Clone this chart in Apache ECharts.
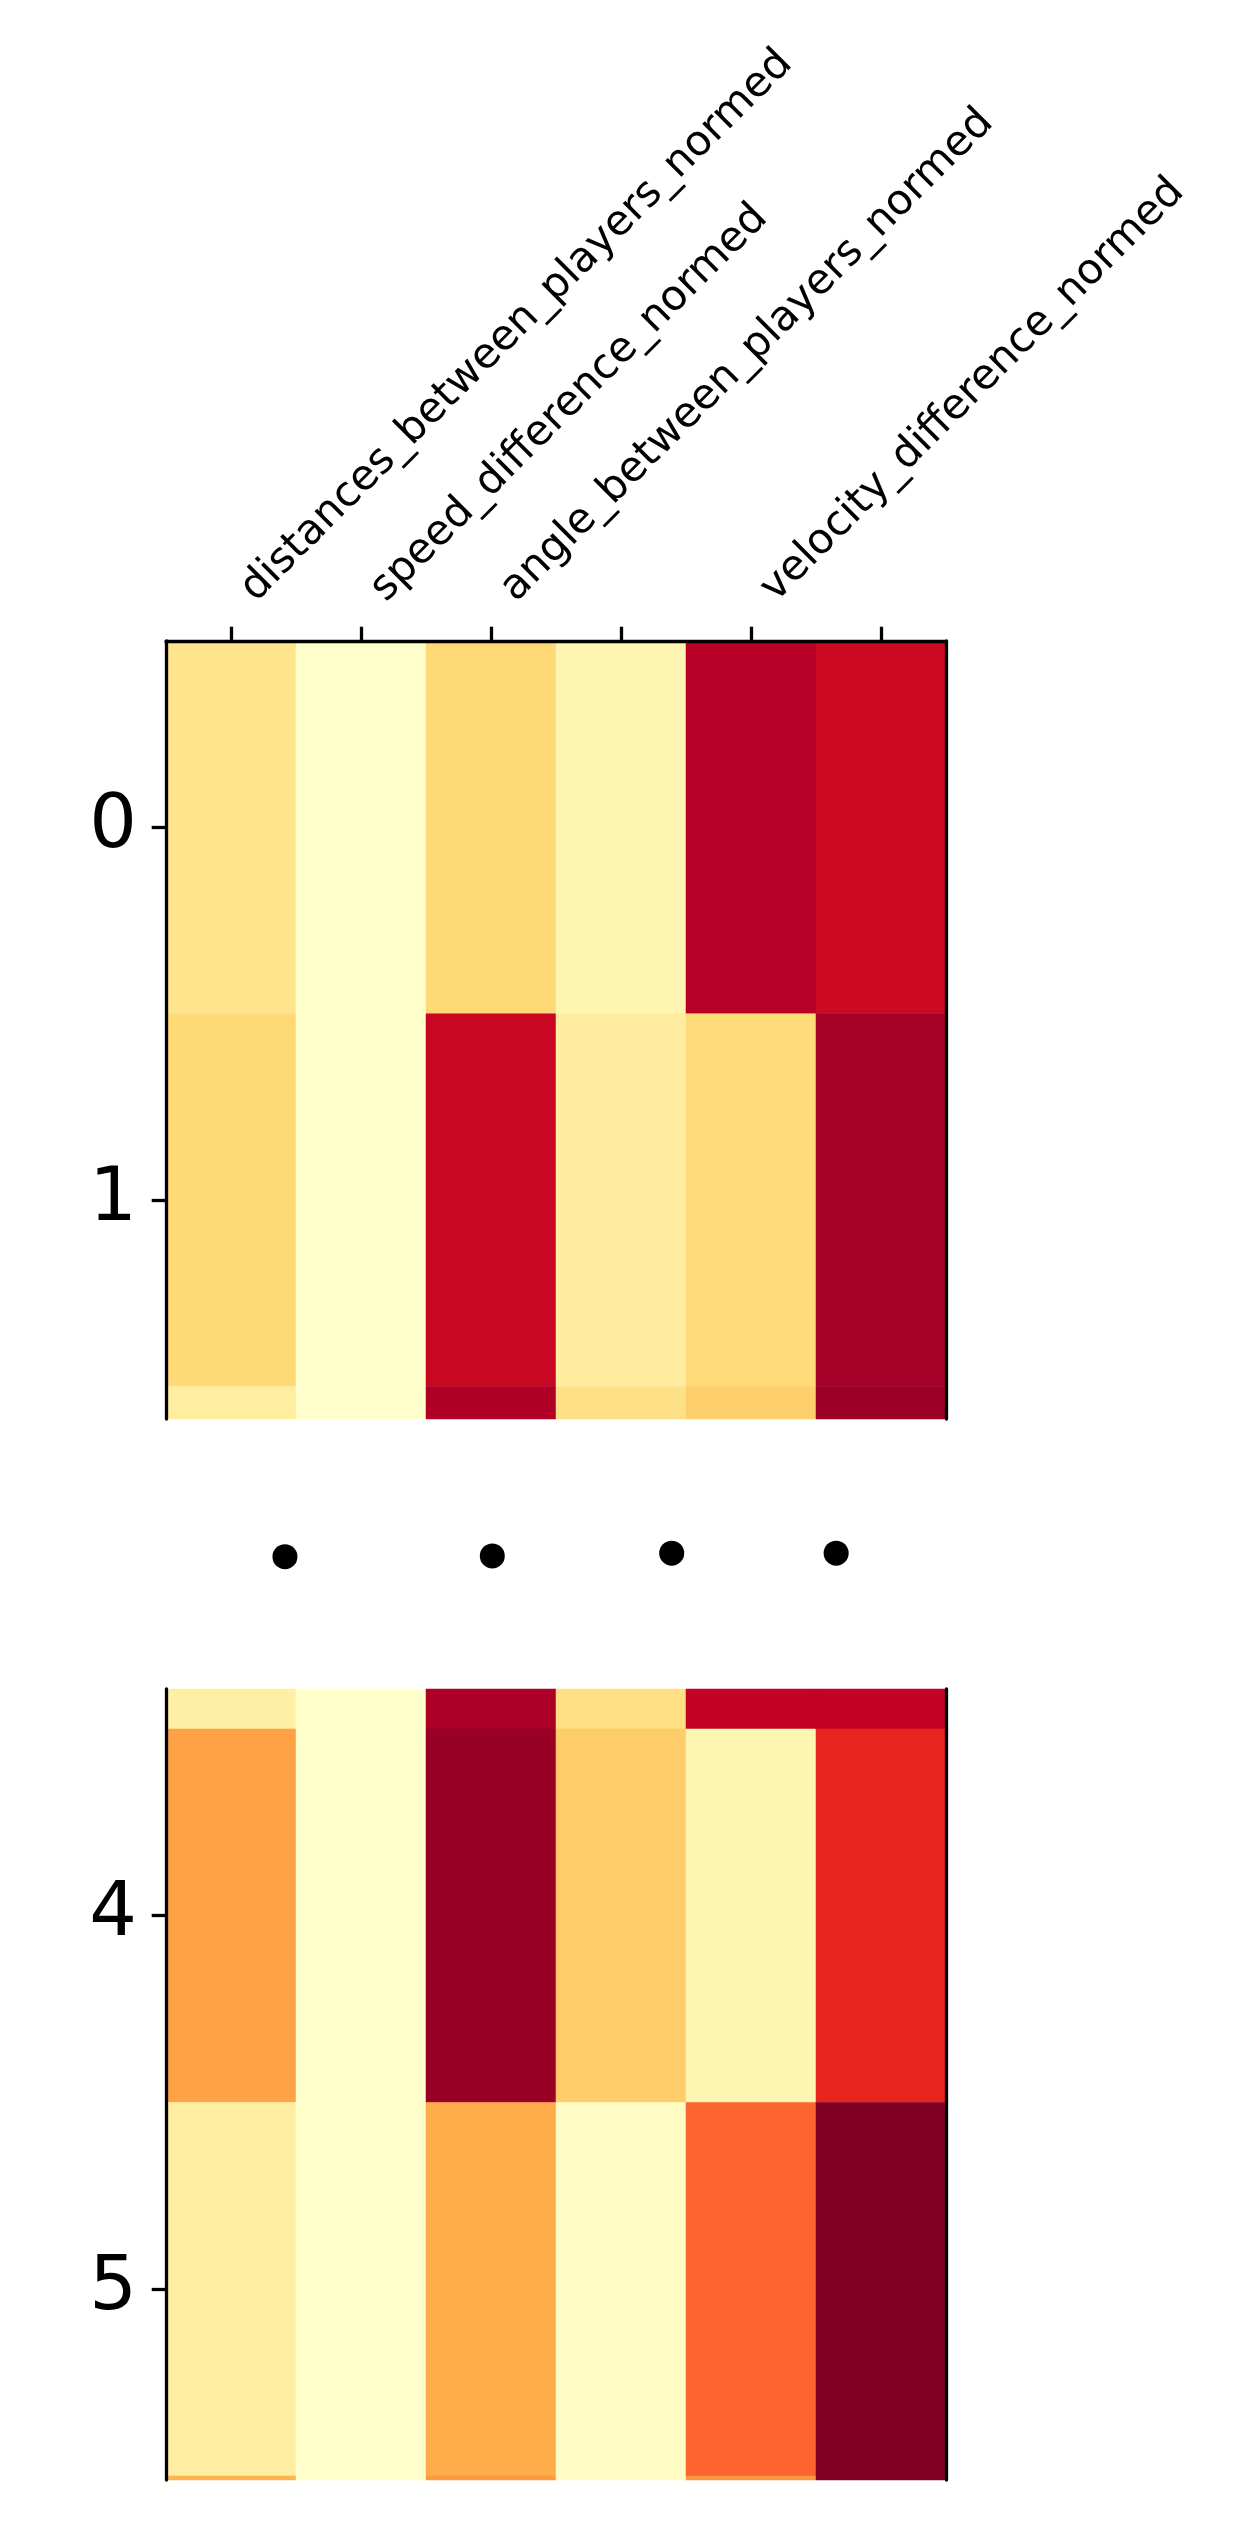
<!DOCTYPE html>
<html>
<head>
<meta charset="utf-8">
<script src="https://cdn.jsdelivr.net/npm/echarts@6/dist/echarts.min.js"></script>
<style>
html,body{margin:0;padding:0;background:#fff;}
#chart{width:1248px;height:2523px;}
</style>
</head>
<body>
<div id="chart"></div>
<script>
// ---- data ----
const columnIndex = [0, 1, 2, 3, 4, 5];
const xTickLabels = ['distances_between_players_normed', 'speed_difference_normed',
  'angle_between_players_normed', '', 'velocity_difference_normed', ''];
const rowIndex = [0, 1, 2, 3, 4, 5, 6];
const yTicksTop = [0, 1];
const yTicksBottom = [4, 5];
// normalised values per column (rows 0..6)
const col0Values = [0.18, 0.25, 0.125, 0.11, 0.43, 0.12, 0.37];
const col1Values = [0.0, 0.0, 0.0, 0.0, 0.0, 0.0, 0.0];
const col2Values = [0.25, 0.84, 0.90, 0.91, 0.95, 0.40, 0.46];
const col3Values = [0.07, 0.13, 0.20, 0.21, 0.29, 0.02, 0.02];
const col4Values = [0.885, 0.245, 0.28, 0.86, 0.07, 0.58, 0.465];
const col5Values = [0.83, 0.925, 0.94, 0.86, 0.725, 1.0, 1.0];
// break markers (column units, relative position in the gap)
const dotX = [0.415, 2.01, 3.39, 4.655];
const dotY = [0.51, 0.507, 0.497, 0.497];

const columns = [col0Values, col1Values, col2Values, col3Values, col4Values, col5Values];
const cells = [];
columnIndex.forEach(function (c) {
  rowIndex.forEach(function (r) { cells.push([c, r, columns[c][r]]); });
});
const dots = dotX.map(function (x, i) { return [x, dotY[i]]; });

const YlOrRd = ['#ffffcc', '#ffeda0', '#fed976', '#feb24c', '#fd8d3c', '#fc4e2a', '#e31a1c', '#bd0026', '#800026'];
const FONT = 'DejaVu Sans';
const LW = 3.3;

function renderCell(params, api) {
  const c = api.value(0), r = api.value(1);
  const p1 = api.coord([c - 0.5, r - 0.5]);
  const p2 = api.coord([c + 0.5, r + 0.5]);
  const rect = {
    x: Math.min(p1[0], p2[0]), y: Math.min(p1[1], p2[1]),
    width: Math.abs(p2[0] - p1[0]), height: Math.abs(p2[1] - p1[1])
  };
  const cs = params.coordSys;
  const clipped = echarts.graphic.clipRectByRect(rect, { x: cs.x, y: cs.y, width: cs.width, height: cs.height });
  if (!clipped) return;
  const col = api.visual('color');
  return { type: 'rect', shape: clipped, style: { fill: col, stroke: col, lineWidth: 0.5 } };
}

function spineAxis(grid, pos, min, max) {
  return {
    type: 'value', gridIndex: grid, position: pos, min: min, max: max, inverse: true, z: 10,
    axisLine: { show: true, onZero: false, lineStyle: { color: '#000', width: LW } },
    axisTick: { show: false }, axisLabel: { show: false }, splitLine: { show: false }
  };
}

function leftAxis(grid, min, max, ticks) {
  return {
    type: 'value', gridIndex: grid, position: 'left', min: min, max: max, inverse: true, z: 10,
    axisLine: { show: true, onZero: false, lineStyle: { color: '#000', width: LW } },
    axisTick: { show: true, customValues: ticks, length: 14.3, lineStyle: { color: '#000', width: LW } },
    axisLabel: { show: true, customValues: ticks, fontSize: 75, fontFamily: FONT, color: '#000', margin: 29 },
    splitLine: { show: false }
  };
}

const gridBase = { containLabel: false, outerBoundsMode: 'none' };
const chart = echarts.init(document.getElementById('chart'), null, { renderer: 'canvas' });
chart.setOption({
  backgroundColor: '#fff',
  animation: false,
  grid: [
    Object.assign({ left: 166, top: 641, width: 780, height: 778 }, gridBase),
    Object.assign({ left: 166, top: 1689, width: 780, height: 791 }, gridBase),
    Object.assign({ left: 166, top: 1419, width: 780, height: 270 }, gridBase)
  ],
  xAxis: [
    {
      type: 'value', gridIndex: 0, position: 'top', min: -0.5, max: 5.5, z: 10,
      axisLine: { show: true, onZero: false, lineStyle: { color: '#000', width: LW } },
      axisTick: { show: true, customValues: columnIndex, length: 14.3, lineStyle: { color: '#000', width: LW } },
      axisLabel: {
        show: true, customValues: columnIndex, rotate: -45, fontSize: 42, fontFamily: FONT, color: '#000',
        margin: 29, padding: [0, 0, 0, 24],
        formatter: function (v) { return xTickLabels[Math.round(v)] || ''; }
      },
      splitLine: { show: false }
    },
    { type: 'value', gridIndex: 1, min: -0.5, max: 5.5, show: false },
    { type: 'value', gridIndex: 2, min: -0.5, max: 5.5, show: false }
  ],
  yAxis: [
    leftAxis(0, -0.5, 1.587, yTicksTop),
    spineAxis(0, 'right', -0.5, 1.587),
    leftAxis(1, 3.393, 5.511, yTicksBottom),
    spineAxis(1, 'right', 3.393, 5.511),
    { type: 'value', gridIndex: 2, min: 0, max: 1, inverse: true, show: false }
  ],
  visualMap: {
    type: 'continuous', show: false, min: 0, max: 1, dimension: 2, seriesIndex: [0, 1],
    inRange: { color: YlOrRd }
  },
  series: [
    { type: 'custom', xAxisIndex: 0, yAxisIndex: 0, renderItem: renderCell, data: cells, encode: { x: 0, y: 1 }, z: 2 },
    { type: 'custom', xAxisIndex: 1, yAxisIndex: 2, renderItem: renderCell, data: cells, encode: { x: 0, y: 1 }, z: 2 },
    { type: 'scatter', xAxisIndex: 2, yAxisIndex: 4, symbol: 'circle', symbolSize: 25,
      itemStyle: { color: '#000', opacity: 1 }, data: dots, silent: true }
  ]
});
</script>
</body>
</html>
